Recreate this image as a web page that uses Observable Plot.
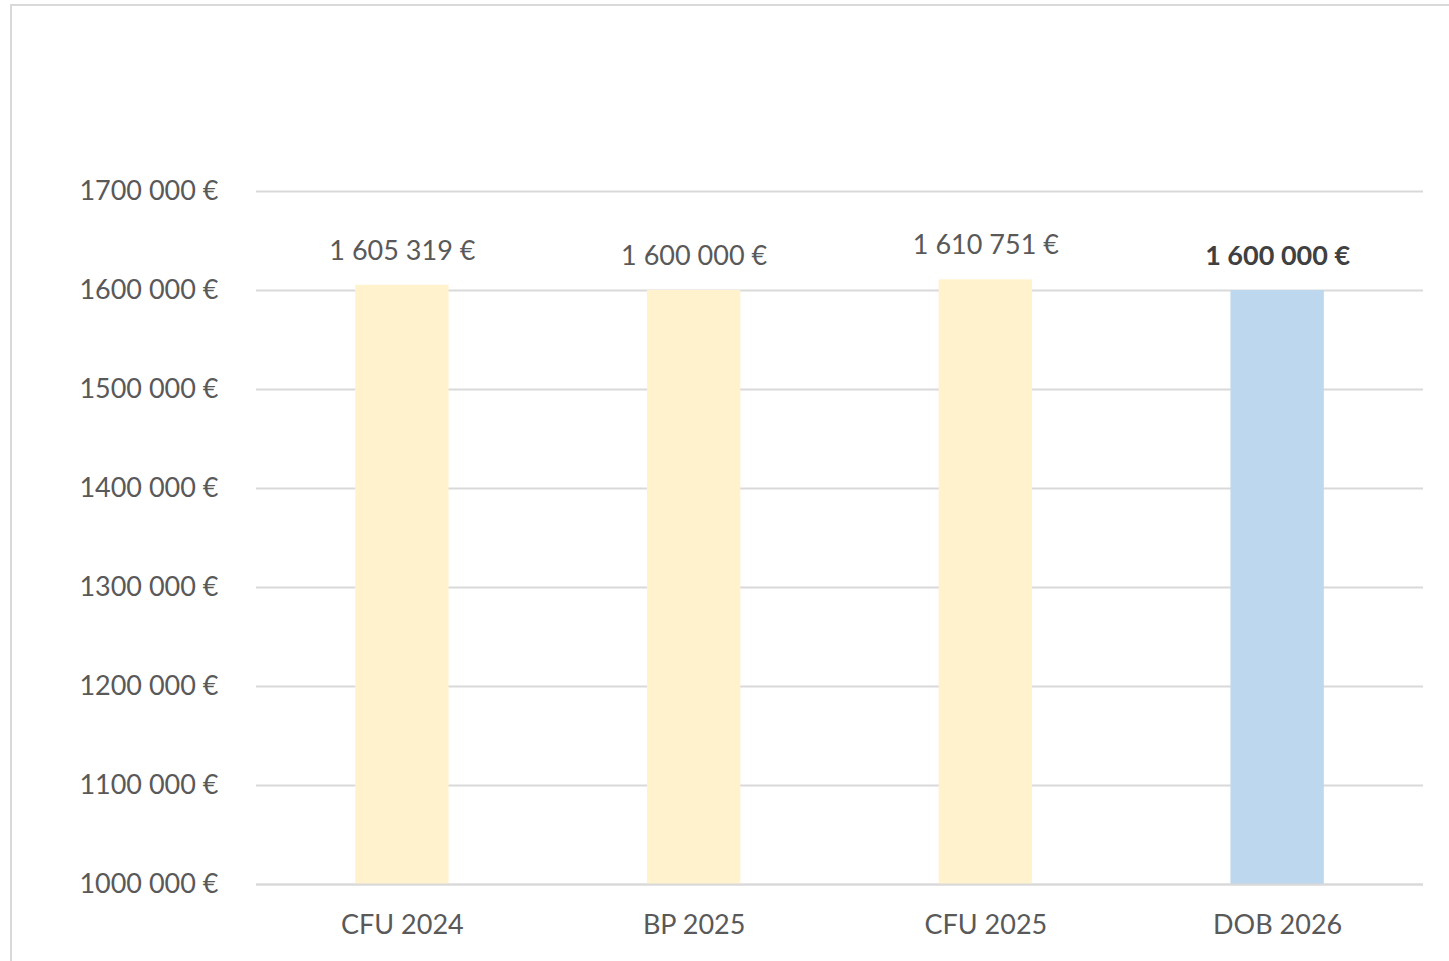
<!DOCTYPE html>
<html>
<head>
<meta charset="utf-8">
<script src="https://cdn.jsdelivr.net/npm/d3@7"></script>
<script src="https://cdn.jsdelivr.net/npm/@observablehq/plot@0.6"></script>
<style>
  html, body { margin: 0; padding: 0; background: #fff; overflow: hidden; }
  #frame { position: absolute; left: 10px; top: 4px; width: 1460px; height: 980px; border: 2px solid #d9d9d9; box-sizing: border-box; }
  #chart { position: absolute; left: 0; top: 0; }
</style>
</head>
<body>
<div id="frame"></div>
<div id="chart"></div>
<script>
const categories = ["CFU 2024", "BP 2025", "CFU 2025", "DOB 2026"];
const values = [1605319, 1600000, 1610751, 1600000];
const valueLabels = ["1 605 319 €", "1 600 000 €", "1 610 751 €", "1 600 000 €"];
const highlighted = [false, false, false, true];
const yTicks = [1000000, 1100000, 1200000, 1300000, 1400000, 1500000, 1600000, 1700000];
const yTickLabels = ["1000 000 €", "1100 000 €", "1200 000 €", "1300 000 €", "1400 000 €", "1500 000 €", "1600 000 €", "1700 000 €"];

const data = categories.map((c, i) => ({category: c, value: values[i], label: valueLabels[i], hl: highlighted[i]}));
const tickLabel = new Map(yTicks.map((t, i) => [t, yTickLabels[i]]));

const font = "Lato, 'Open Sans', sans-serif";
const chart = Plot.plot({
  width: 1449,
  height: 961,
  marginLeft: 256,
  marginRight: 26,
  marginTop: 191,
  marginBottom: 77,
  style: {fontFamily: font, fontSize: "27px", color: "#595959", background: "transparent"},
  x: {domain: categories, paddingInner: 0.68, paddingOuter: 0.34, round: false, label: null},
  y: {domain: [1000000, 1700000], label: null},
  marks: [
    Plot.ruleY(yTicks, {stroke: "#d9d9d9", strokeWidth: 2}),
    Plot.barY(data, {x: "category", y1: 1000000, y2: "value", fill: d => d.hl ? "#BDD7EE" : "#FFF2CC"}),
    Plot.ruleY([1000000], {stroke: "#d9d9d9", strokeWidth: 2}),
    Plot.axisY({ticks: yTicks, tickSize: 0, tickPadding: 38, tickFormat: d => tickLabel.get(d), fill: "#595959", fontSize: 27}),
    Plot.axisX({tickSize: 0, tickPadding: 30, fill: "#595959", fontSize: 27}),
    Plot.text(data.filter(d => !d.hl), {x: "category", y: "value", text: "label", dy: -34, fill: "#595959", fontSize: 27}),
    Plot.text(data.filter(d => d.hl), {x: "category", y: "value", text: "label", dy: -34, fill: "#404040", fontSize: 27, fontWeight: "bold"})
  ]
});
document.getElementById("chart").appendChild(chart);
</script>
</body>
</html>
